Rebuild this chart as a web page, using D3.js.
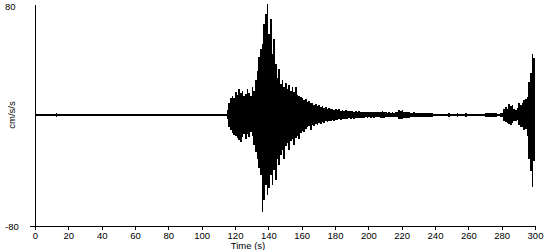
<!DOCTYPE html>
<html>
<head>
<meta charset="utf-8">
<script src="https://cdn.jsdelivr.net/npm/d3@7"></script>
<style>
  body { margin: 0; background: #fff; }
  text { font-family: "Liberation Sans Narrow", "Arial Narrow", "Liberation Sans", Arial, sans-serif; font-size: 9.5px; fill: #000; }
</style>
</head>
<body>
<figure id="seismo" style="margin:0"></figure>
<script>
// record times (s) with the upper and lower trace envelope (cm/s/s)
const waveTime = [0, 12.6, 13.4, 114,
  115, 116, 117, 118, 119, 120, 121, 122, 123, 124,
  125, 126, 127, 128, 129, 130, 131, 132, 133, 134,
  135, 136, 137, 138, 139, 140, 141, 142, 143, 144,
  145, 146, 147, 148, 149, 150, 151, 152, 153, 154,
  155, 156, 157, 158, 159, 160, 161, 162, 163, 164,
  165, 166, 167, 168, 169, 170, 171, 172, 173, 174,
  175, 176, 177, 178, 179, 180, 181, 182, 183, 184,
  185, 186, 187, 188, 189, 190, 191, 192, 193, 194,
  195, 196, 197, 198, 199, 200, 201, 202, 203, 204,
  205, 206, 207, 208, 209, 210, 211, 212, 213, 214,
  215, 216, 217, 218, 219, 220, 221, 222, 223, 224,
  225, 226, 227, 228, 229, 230, 231, 232, 233, 234,
  235, 236, 237, 238, 239, 240, 241, 242, 243, 244,
  245, 246, 247, 248, 249, 250, 251, 252, 253, 254,
  255, 256, 257, 258, 259, 260, 261, 262, 263, 264,
  265, 266, 267, 268, 269, 270, 271, 272, 273, 274,
  275, 276, 277, 278, 279, 280, 281, 282, 283, 284,
  285, 286, 287, 288, 289, 290, 291, 292, 293, 294,
  295, 296, 297, 298, 299, 300];

const wavePeak = [0.7, 1.6, 0.7, 0.7,
  3.5, 9.0, 12.5, 14.0, 12.0, 16.5, 14.5, 18.5, 15.5, 17.0,
  14.0, 15.0, 18.5, 15.5, 13.5, 20.0, 17.0, 25.5, 31.5, 41.5,
  47.5, 51.0, 65.5, 73.0, 80.0, 58.5, 69.0, 44.0, 54.5, 36.5,
  27.0, 33.0, 22.0, 25.5, 20.0, 23.0, 18.5, 21.5, 17.0, 20.0,
  16.5, 20.0, 14.5, 14.0, 13.0, 12.5, 11.0, 11.5, 9.5, 10.0,
  8.5, 9.0, 7.5, 8.0, 6.5, 7.5, 6.0, 6.5, 5.0, 5.5,
  4.5, 5.0, 4.0, 4.5, 3.8, 4.5, 3.5, 4.0, 3.2, 3.8,
  3.0, 3.5, 2.8, 3.2, 2.6, 3.0, 2.5, 2.8, 2.4, 2.7,
  2.3, 2.5, 2.2, 2.4, 2.0, 2.3, 2.0, 2.2, 1.9, 2.2,
  1.9, 2.1, 2.3, 2.8, 2.4, 2.0, 1.8, 2.0, 1.7, 1.9,
  1.7, 1.9, 2.2, 3.5, 3.0, 3.3, 2.4, 2.2, 2.5, 2.0,
  1.8, 1.6, 1.9, 1.5, 1.6, 1.8, 1.5, 1.4, 1.6, 1.3,
  1.5, 1.2, 1.4, 1.2, 1.0, 0.9, 1.0, 0.9, 0.9, 1.0,
  0.9, 0.9, 1.0, 1.8, 0.9, 0.9, 1.0, 0.9, 1.5, 0.9,
  0.9, 1.0, 0.9, 1.6, 0.9, 0.9, 1.0, 0.9, 0.9, 1.0,
  0.9, 1.0, 0.9, 0.9, 1.0, 1.5, 1.8, 1.4, 1.7, 1.5,
  1.3, 1.6, 1.0, 1.0, 1.2, 1.5, 4.5, 5.5, 4.5, 8.0,
  6.5, 7.0, 4.0, 3.5, 5.0, 8.5, 7.5, 9.0, 10.5, 11.5,
  13.0, 24.0, 30.0, 44.0, 41.0, 41.0];

const waveTrough = [-0.7, -1.6, -0.7, -0.7,
  -3.0, -8.5, -11.0, -13.0, -14.5, -15.0, -16.5, -18.0, -19.5, -15.5,
  -13.5, -17.0, -14.0, -16.0, -12.5, -15.0, -21.5, -26.5, -32.0, -38.0,
  -43.0, -70.0, -61.0, -50.5, -57.5, -52.5, -43.0, -50.5, -39.5, -46.5,
  -32.0, -36.0, -28.5, -25.0, -32.0, -22.0, -20.5, -25.0, -19.0, -17.5,
  -21.5, -16.5, -15.0, -17.5, -13.0, -11.5, -12.5, -10.0, -9.0, -8.0,
  -10.5, -7.5, -8.0, -6.5, -7.5, -6.0, -6.5, -5.0, -5.5, -4.5,
  -5.0, -4.0, -4.5, -3.5, -4.0, -3.5, -3.8, -3.0, -3.5, -2.8,
  -3.2, -2.6, -3.0, -2.4, -2.8, -2.2, -2.6, -2.2, -2.4, -2.0,
  -2.3, -1.9, -2.1, -1.8, -2.0, -1.8, -1.9, -1.7, -1.9, -1.7,
  -1.8, -1.7, -2.0, -2.4, -2.2, -1.8, -1.7, -1.6, -1.8, -1.6,
  -1.7, -1.6, -1.8, -3.0, -3.2, -2.8, -2.3, -2.0, -1.9, -2.1,
  -1.6, -1.5, -1.5, -1.6, -1.4, -1.5, -1.4, -1.5, -1.3, -1.4,
  -1.3, -1.2, -1.3, -1.1, -1.0, -0.9, -0.9, -1.0, -0.9, -0.9,
  -0.9, -1.0, -0.9, -1.6, -0.9, -0.9, -0.9, -1.0, -1.4, -0.9,
  -0.9, -0.9, -1.0, -1.2, -0.9, -0.9, -0.9, -1.0, -0.9, -0.9,
  -0.9, -0.9, -1.0, -0.9, -0.9, -1.4, -1.6, -1.7, -1.3, -1.5,
  -1.6, -1.2, -1.0, -1.0, -1.1, -1.4, -4.0, -5.0, -5.5, -6.5,
  -7.5, -5.5, -4.5, -4.0, -3.5, -7.0, -9.0, -8.5, -11.0, -10.0,
  -15.0, -32.0, -40.0, -52.0, -33.0, -33.0];

const timeTicks = [0, 20, 40, 60, 80, 100, 120, 140, 160, 180, 200, 220, 240, 260, 280, 300];
const ampLabels = [80, -80];
const xTitle = "Time (s)";
const yTitle = "cm/s/s";

const width = 550;
const height = 250;

const svg = d3.select("figure#seismo")
  .append("svg")
  .attr("width", width)
  .attr("height", height);

const x = d3.scaleLinear().domain([0, 300]).range([35, 535]);
const y = d3.scaleLinear().domain([-80, 80]).range([226, 4]);

// trace, filled between the two envelopes
const rows = waveTime.map((t, i) => ({ t: t, hi: wavePeak[i], lo: waveTrough[i] }));
svg.append("path")
  .datum(rows)
  .attr("fill", "#000")
  .attr("shape-rendering", "crispEdges")
  .attr("d", d3.area()
    .x(d => x(d.t))
    .y0(d => y(d.lo))
    .y1(d => y(d.hi))
    .curve(d3.curveStepAfter));

// X axis
const xAxis = svg.append("g")
  .attr("transform", "translate(0," + y(-80) + ")")
  .call(d3.axisBottom(x).tickValues(timeTicks).tickSize(4).tickPadding(2).tickSizeOuter(0).tickFormat(d3.format("d")));
xAxis.select(".domain").attr("stroke", "#000").attr("shape-rendering", "crispEdges");
xAxis.selectAll(".tick line").attr("stroke", "#000").attr("shape-rendering", "crispEdges");
xAxis.selectAll("text").attr("font-size", null).attr("font-family", null);

// Y axis: plain line, small tick at the bottom only
const yAxis = svg.append("g")
  .attr("transform", "translate(" + x(0) + ",0)")
  .call(d3.axisLeft(y).tickValues([-80]).tickSize(5).tickSizeOuter(0).tickFormat(""));
yAxis.select(".domain").attr("stroke", "#000").attr("shape-rendering", "crispEdges");
yAxis.selectAll(".tick line").attr("stroke", "#000").attr("shape-rendering", "crispEdges");

svg.selectAll("text.amp")
  .data(ampLabels)
  .enter()
  .append("text")
  .attr("class", "amp")
  .attr("x", 5)
  .attr("y", d => y(d) + (d > 0 ? 5.5 : 3.5))
  .text(d => d);

svg.append("text")
  .attr("x", 248)
  .attr("y", 249)
  .attr("text-anchor", "middle")
  .text(xTitle);

svg.append("text")
  .attr("transform", "translate(15," + y(0) + ") rotate(-90)")
  .attr("text-anchor", "middle")
  .text(yTitle);
</script>
</body>
</html>
